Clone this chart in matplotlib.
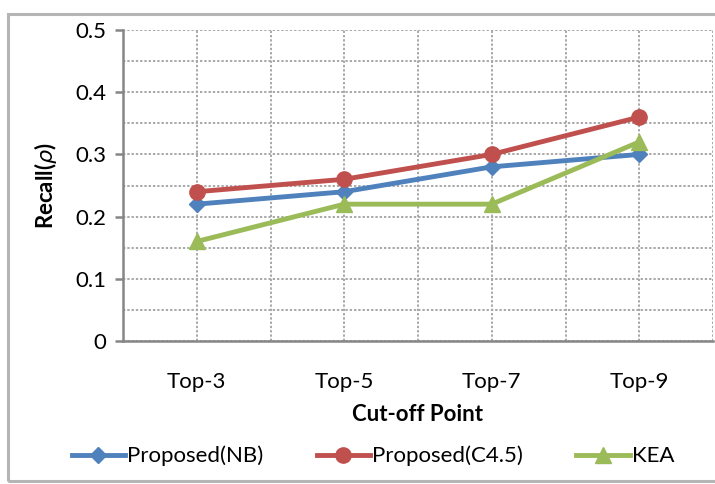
import numpy as np
import matplotlib
matplotlib.use("Agg")
import matplotlib.pyplot as plt
from matplotlib.patches import Rectangle

# data
categories = ["Top-3", "Top-5", "Top-7", "Top-9"]
nb_recall = [0.22, 0.24, 0.28, 0.30]
c45_recall = [0.24, 0.26, 0.30, 0.36]
kea_recall = [0.16, 0.22, 0.22, 0.32]
y_ticks = [0, 0.1, 0.2, 0.3, 0.4, 0.5]
y_tick_labels = ["0", "0.1", "0.2", "0.3", "0.4", "0.5"]

plt.rcParams['font.family'] = ['Lato', 'DejaVu Sans']
FS = 16

fig = plt.figure(figsize=(7.15, 4.84), dpi=100)
fig.patch.set_facecolor('white')

# chart-area frame
frame = Rectangle((8 / 715, 3 / 484), 1.2, 467 / 484, transform=fig.transFigure,
                  fill=False, edgecolor='#b5b5b5', lw=2.2, zorder=0)
fig.patches.append(frame)

ax = fig.add_axes([123 / 715, 1 - 341 / 484, 590 / 715, 311 / 484])

x = np.arange(len(categories)) + 0.5
ax.plot(x, nb_recall, color='#4F81BD', lw=3.5, marker='D', ms=8, label='Proposed(NB)', zorder=3)
ax.plot(x, c45_recall, color='#C0504D', lw=3.5, marker='o', ms=11, label='Proposed(C4.5)', zorder=3)
ax.plot(x, kea_recall, color='#9BBB59', lw=3.5, marker='^', ms=11, label='KEA', zorder=3)

ax.set_xlim(0, 4)
ax.set_ylim(0, 0.5)
ax.set_xticks(x)
ax.set_xticklabels(categories)
ax.set_xticks(np.arange(0, 4.01, 0.5), minor=True)
ax.set_yticks(y_ticks)
ax.set_yticklabels(y_tick_labels)
ax.set_yticks(np.arange(0, 0.501, 0.05), minor=True)

ax.grid(True, which='both', color='#a8a8a8', linestyle=(0, (1.2, 1.0)), lw=1.4, zorder=1)
ax.set_axisbelow(True)

for s in ['top', 'right']:
    ax.spines[s].set_visible(False)
for s in ['left', 'bottom']:
    ax.spines[s].set_color('#868686')
    ax.spines[s].set_linewidth(1.8)

ax.tick_params(axis='x', which='both', length=0, pad=22, labelsize=FS)
ax.tick_params(axis='y', which='major', length=6, width=1.8, color='#868686', pad=6, labelsize=FS)
ax.tick_params(axis='y', which='minor', length=0)

ax.set_xlabel('Cut-off Point', fontsize=FS, fontweight='bold', labelpad=9)
ax.set_ylabel(r'Recall($\rho$)', fontsize=FS, fontweight='bold', labelpad=12)

fig.legend(loc='center', bbox_to_anchor=(373 / 715, 1 - 456 / 484), ncol=3,
           frameon=False, fontsize=FS, handlelength=2.4, handletextpad=0.1,
           columnspacing=2.4)

fig.savefig('out.png', dpi=100)
